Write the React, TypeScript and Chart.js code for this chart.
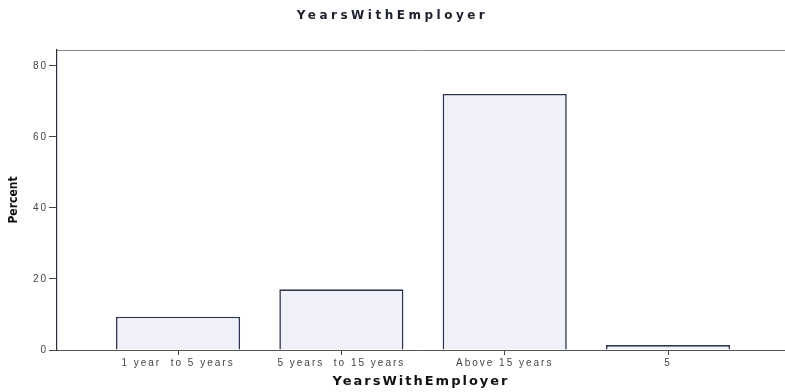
import React, { useEffect, useRef } from "react";
import { Chart, registerables } from "chart.js";

Chart.register(...registerables);

const categories = ["1 year  to 5 years", "5 years  to 15 years", "Above 15 years", "5"];
const percents = [9.4, 17.1, 72.1, 1.4];
const yTicks = [0, 20, 40, 60, 80];
const xPositions = [0, 1, 2, 3];

const SPACING: Array<[RegExp, string]> = [
  [/Condensed/, "0px"],
  [/bold 12px/, "3.5px"],
  [/bold 13px/, "2.0px"],
  [/10px/, "2.0px"],
];

function patchSpacing(ctx: any) {
  if (ctx.__spaced) return;
  ctx.__spaced = true;
  const orig = ctx.fillText.bind(ctx);
  ctx.fillText = (t: string, x: number, y: number, mw?: number) => {
    const f: string = ctx.font;
    let ls = "0px";
    for (const [re, v] of SPACING) {
      if (re.test(f)) {
        ls = v;
        break;
      }
    }
    ctx.letterSpacing = ls;
    if (mw === undefined) orig(t, x, y);
    else orig(t, x, y, mw);
    ctx.letterSpacing = "0px";
  };
}

export default function App() {
  const ref = useRef<HTMLCanvasElement | null>(null);
  useEffect(() => {
    const canvas = ref.current!;
    const ctx = canvas.getContext("2d")!;
    patchSpacing(ctx);
    const chart = new Chart(ctx, {
      type: "bar",
      data: {
        datasets: [
          {
            data: categories.map((c, i) => ({ x: xPositions[i], y: percents[i] })),
            backgroundColor: "#eff0f8",
            borderColor: "#2e3550",
            borderWidth: 1.6,
            barPercentage: 0.76,
            categoryPercentage: 1,
          },
        ],
      },
      options: {
        animation: false,
        responsive: false,
        layout: { padding: 0 },
        plugins: {
          legend: { display: false },
          tooltip: { enabled: false },
          title: {
            display: true,
            text: "YearsWithEmployer",
            color: "#1c1f2c",
            font: { family: "DejaVu Sans", size: 12, weight: "bold" },
            padding: { top: 9, bottom: 18.6 },
          },
        },
        scales: {
          x: {
            type: "linear",
            position: "bottom",
            min: -0.741,
            max: 3.716,
            offset: false,
            afterBuildTicks: (scale: any) => {
              scale.ticks = xPositions.map((v) => ({ value: v }));
            },
            afterFit: (scale: any) => {
              scale.height = 42;
            },
            ticks: {
              autoSkip: false,
              maxRotation: 0,
              padding: 2,
              color: "#444",
              font: { family: "Liberation Sans", size: 10 },
              callback: (v: any) => categories[Math.round(Number(v))] ?? "",
            },
            grid: {
              display: true,
              drawOnChartArea: false,
              drawTicks: true,
              tickLength: 5,
              color: "#444",
              offset: false,
            },
            border: { display: true, color: "#555", width: 1 },
            title: {
              display: true,
              text: "YearsWithEmployer",
              color: "#111",
              font: { family: "DejaVu Sans", size: 13, weight: "bold" },
              padding: { top: 0, bottom: 2.5 },
            },
          },
          x2: {
            type: "linear",
            position: "top",
            min: -0.741,
            max: 3.716,
            offset: false,
            ticks: { display: false },
            grid: { display: false, offset: false },
            border: { display: true, color: "#888", width: 1 },
          },
          y: {
            type: "linear",
            min: 0,
            max: 84.5,
            afterBuildTicks: (scale: any) => {
              scale.ticks = yTicks.map((v) => ({ value: v }));
            },
            afterFit: (scale: any) => {
              scale.width = 57;
            },
            ticks: {
              padding: 1,
              color: "#444",
              font: { family: "Liberation Sans", size: 10 },
            },
            grid: {
              display: true,
              drawOnChartArea: false,
              drawTicks: true,
              tickLength: 8,
              color: "#444",
            },
            border: { display: true, color: "#2a2f3a", width: 1.2 },
            title: {
              display: true,
              text: "Percent",
              color: "#111",
              font: { family: "DejaVu Sans Condensed", size: 12, weight: "bold" },
              padding: { top: 7, bottom: 0 },
            },
          },
        },
      },
    } as any);
    return () => chart.destroy();
  }, []);
  return (
    <div style={{ position: "fixed", left: 0, top: 0, width: 785, height: 392, background: "#fff" }}>
      <canvas ref={ref} width={785} height={392} style={{ display: "block" }} />
    </div>
  );
}
